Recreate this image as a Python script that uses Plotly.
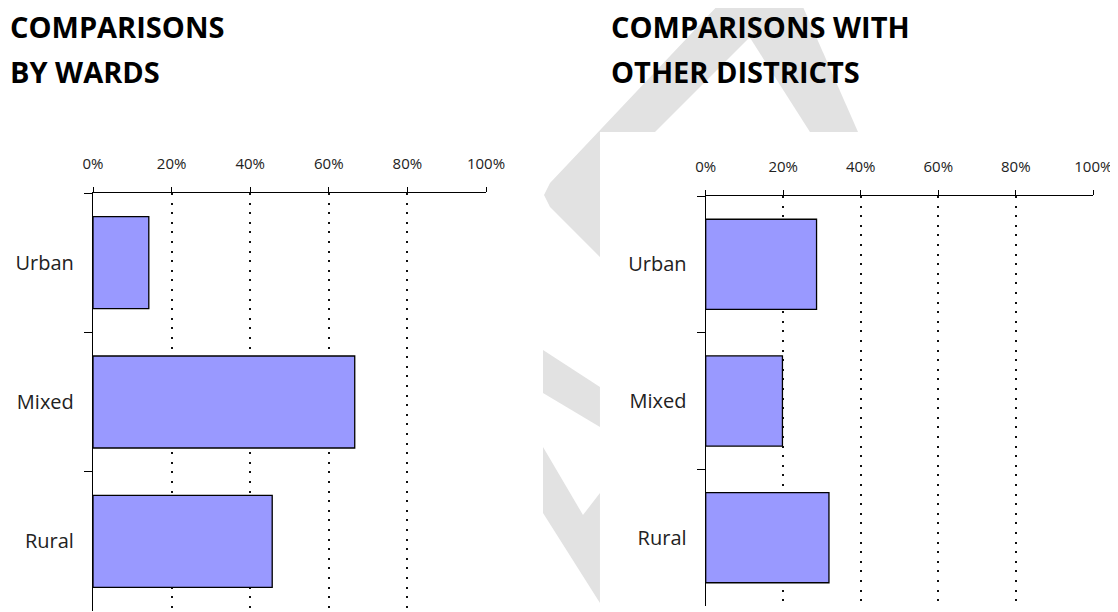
import plotly.graph_objects as go

# the page puts the figure 8px in from the top-left corner of the window
OFF = 8
W, H = 1118 - OFF, 612 - OFF

# data
categories = ["Urban", "Mixed", "Rural"]
wards_share = [0.142, 0.666, 0.456]
districts_share = [0.286, 0.198, 0.318]
tick_vals = [0, 0.2, 0.4, 0.6, 0.8, 1.0]
tick_text = ["0%", "20%", "40%", "60%", "80%", "100%"]

BAR_COLOR = "#9999ff"
FONT = "Open Sans"


def px(x, y):
    # window pixel position -> paper coords
    return (x - OFF) / W, 1 - (y - OFF) / H


def poly(points, color):
    path = ""
    for i, (x, y) in enumerate(points):
        a, b = px(x, y)
        path += ("M" if i == 0 else "L") + f"{a:.4f},{b:.4f} "
    return dict(type="path", xref="paper", yref="paper", path=path + "Z",
                fillcolor=color, line=dict(width=0), layer="below")


fig = go.Figure()

fig.add_trace(go.Bar(y=categories, x=wards_share, orientation="h", width=0.66,
                     marker=dict(color=BAR_COLOR, line=dict(color="black", width=1.3)),
                     xaxis="x", yaxis="y", showlegend=False))
fig.add_trace(go.Bar(y=categories, x=districts_share, orientation="h", width=0.66,
                     marker=dict(color=BAR_COLOR, line=dict(color="black", width=1.3)),
                     xaxis="x2", yaxis="y2", showlegend=False))

xaxis_style = dict(range=[0, 1], side="top", tickvals=tick_vals, ticktext=tick_text,
                   showline=True, linecolor="black", linewidth=1.3,
                   ticks="outside", ticklen=5, tickcolor="black", tickwidth=1.3,
                   ticklabelstandoff=12, automargin=False,
                   showgrid=True, gridcolor="#111", gridwidth=2, griddash="2px,7.6px",
                   zeroline=False, fixedrange=True,
                   tickfont=dict(family=FONT, size=15, color="#222"))
yaxis_style = dict(type="category", categoryorder="array", categoryarray=categories,
                   autorange="reversed", showline=True, linecolor="black", linewidth=1.3,
                   ticks="outside", tickson="boundaries", ticklen=8, tickcolor="black",
                   tickwidth=1.3, ticklabelstandoff=14, showgrid=False, zeroline=False,
                   automargin=False,
                   tickfont=dict(family=FONT, size=20, color="#222"))

# watermark behind the charts, then the white card of the right chart
gray = "#e2e2e2"
shapes = [
    poly([(723, 0), (787, 0), (655, 132), (640, 132), (640, 290), (600, 257),
          (550, 207), (544, 195), (550, 183)], gray),
    poly([(760, 0), (800, 0), (858, 132), (810, 132), (745, 30)], gray),
    poly([(543, 350), (600, 387), (600, 427), (543, 393)], gray),
    poly([(543, 447), (583, 515), (600, 493), (600, 603), (543, 513)], gray),
]
x0, y1 = px(600, 132)
shapes.append(dict(type="rect", xref="paper", yref="paper", x0=x0, x1=1, y0=0, y1=y1,
                   fillcolor="white", line=dict(width=0), layer="below"))

title_font = dict(family=FONT, size=29, color="black")
annotations = []
for x, lines in [(8, ["<b>COMPARISONS</b>", "<b>BY WARDS</b>"]),
                 (609, ["<b>COMPARISONS WITH</b>", "<b>OTHER DISTRICTS</b>"])]:
    for i, txt in enumerate(lines):
        ax, ay = px(x, 27 + 44 * i)
        annotations.append(dict(text=txt, x=ax, y=ay, xref="paper", yref="paper",
                                xanchor="left", yanchor="middle", showarrow=False,
                                font=title_font))

xa, xb = px(93, 0)[0], px(486, 0)[0]
xc, xd = px(705.7, 0)[0], px(1093.3, 0)[0]
ya, yb = px(0, 611)[1], px(0, 193)[1]
yc, yd = px(0, 606)[1], px(0, 196)[1]

fig.update_layout(
    width=W, height=H,
    margin=dict(l=0, r=0, t=0, b=0, autoexpand=False),
    paper_bgcolor="white", plot_bgcolor="rgba(0,0,0,0)",
    xaxis=dict(domain=[xa, xb], anchor="y", **xaxis_style),
    yaxis=dict(domain=[max(ya, 0), yb], anchor="x", **yaxis_style),
    xaxis2=dict(domain=[xc, xd], anchor="y2", **xaxis_style),
    yaxis2=dict(domain=[yc, yd], anchor="x2", **yaxis_style),
    shapes=shapes,
    annotations=annotations,
    bargap=0.34,
)

fig.write_html("out.html")
